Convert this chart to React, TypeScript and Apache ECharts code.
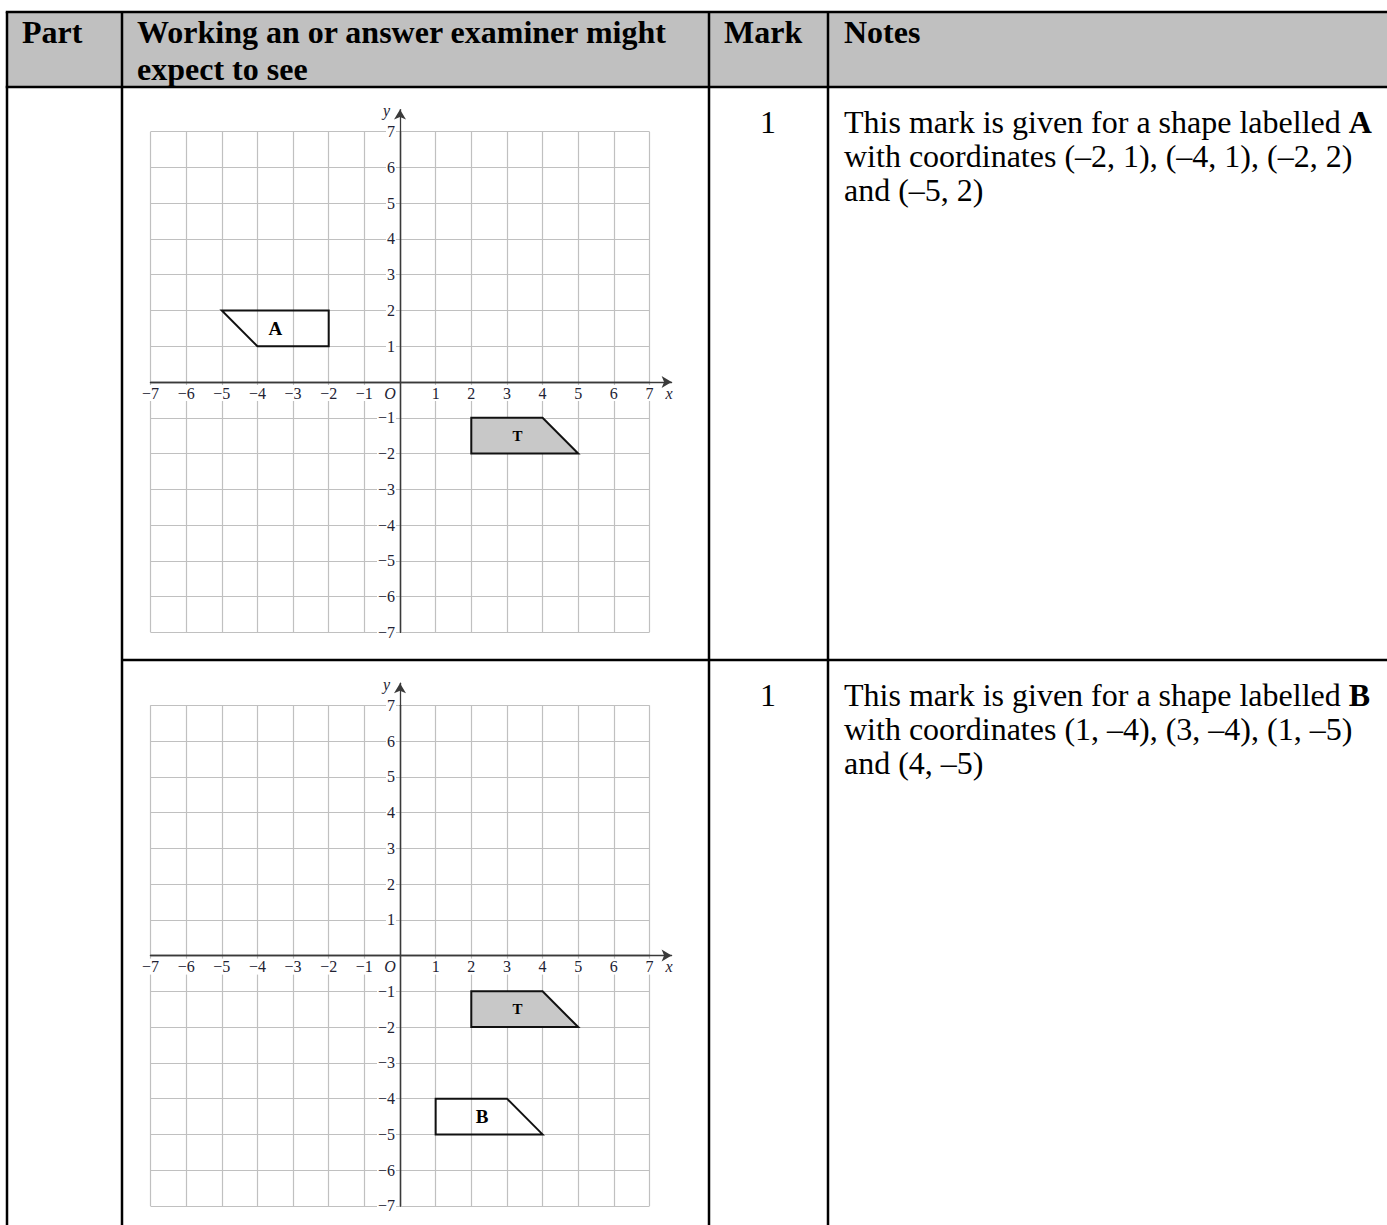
import React, { useEffect, useRef } from 'react';
import * as echarts from 'echarts';

// ---------- data ----------
const AXIS_MIN = -7;
const AXIS_MAX = 7;
const AXIS_STEP = 1;
const ARROW_EXTENT = 0.62;

const SHAPE_T = [[2, -1], [4, -1], [5, -2], [2, -2]];
const LABEL_T = [3.3, -1.5];
const SHAPE_A = [[-5, 2], [-2, 2], [-2, 1], [-4, 1]];
const LABEL_A = [-3.5, 1.5];
const SHAPE_B = [[1, -4], [3, -4], [4, -5], [1, -5]];
const LABEL_B = [2.3, -4.5];

const HEADER_PART = 'Part';
const HEADER_WORKING = ['Working an or answer examiner might', 'expect to see'];
const HEADER_MARK = 'Mark';
const HEADER_NOTES = 'Notes';
const MARKS = ['1', '1'];
const NOTES_ROW1 = [
  'This mark is given for a shape labelled {b|A}',
  'with coordinates (–2, 1), (–4, 1), (–2, 2)',
  'and (–5, 2)',
];
const NOTES_ROW2 = [
  'This mark is given for a shape labelled {b|B}',
  'with coordinates (1, –4), (3, –4), (1, –5)',
  'and (4, –5)',
];

// ---------- layout / style ----------
const W = 1387;
const H = 1225;
const SERIF = '"Liberation Serif", "Times New Roman", serif';
const GRID_COLOR = '#c0c0c0';
const AXIS_COLOR = '#3a3a3a';
const LABEL_COLOR = '#222233';
const PLOT_LEFT = 150.5;
const PLOT_W = 499;
const PLOT_H = 500.6;
const PLOT_TOPS = [131.7, 705.3];

const TABLE_LEFT = 7;
const TABLE_TOP = 12;
const HEADER_BOTTOM = 87;
const COL1 = 122;
const COL2 = 709;
const COL3 = 828;
const ROW_DIV = 660;
const BORDER = 2.5;
const HEADER_FONT = 32;
const BODY_FONT = 32;
const BODY_LH = 34;

const fmt = (v: number) => (v < 0 ? '−' + Math.abs(v) : String(v));

const tickLabel = {
  fontFamily: SERIF,
  fontSize: 16,
  color: LABEL_COLOR,
};

function buildChart(idx: number, top: number, shapes: { pts: number[][]; label: string; at: number[]; fill: string; size: number }[]) {
  const unitX = PLOT_W / (AXIS_MAX - AXIS_MIN);
  const unitY = PLOT_H / (AXIS_MAX - AXIS_MIN);
  // distance from the grid's bottom / left edge to the zero lines
  const zeroFromBottom = (0 - AXIS_MIN) * unitY;
  const zeroFromLeft = (0 - AXIS_MIN) * unitX;
  const g0 = idx * 2;
  const g1 = idx * 2 + 1;
  const grids = [
    { left: PLOT_LEFT, top, width: PLOT_W, height: PLOT_H },
    {
      left: PLOT_LEFT,
      top: top - ARROW_EXTENT * unitY,
      width: PLOT_W + ARROW_EXTENT * unitX,
      height: PLOT_H + ARROW_EXTENT * unitY,
    },
  ];
  const mainAxisLine = { show: true, onZero: false, lineStyle: { color: AXIS_COLOR, width: 1.3 } };
  const split = { show: true, lineStyle: { color: GRID_COLOR, width: 1.2 } };
  const xAxes = [
    {
      type: 'value',
      gridIndex: g0,
      position: 'bottom',
      offset: -zeroFromBottom,
      min: AXIS_MIN,
      max: AXIS_MAX,
      interval: AXIS_STEP,
      axisLine: mainAxisLine,
      axisTick: { show: false },
      splitLine: split,
      axisLabel: {
        ...tickLabel,
        margin: 3,
        showMinLabel: true,
        showMaxLabel: true,
        formatter: (v: number) => (v === 0 ? '{o|O}' : `{n|${fmt(v)}}`),
        rich: {
          n: { ...tickLabel, backgroundColor: '#fff', padding: [0, 1] },
          o: { ...tickLabel, fontStyle: 'italic', padding: [0, 20, 0, 0] },
        },
      },
      name: 'x',
      nameLocation: 'end',
      nameGap: 16,
      nameTextStyle: {
        fontFamily: SERIF,
        fontSize: 16,
        fontStyle: 'italic',
        color: LABEL_COLOR,
        verticalAlign: 'top',
        padding: [3, 0, 0, 0],
      },
    },
    {
      type: 'value',
      gridIndex: g1,
      min: AXIS_MIN,
      max: AXIS_MAX + ARROW_EXTENT,
      z: 5,
      axisLine: {
        show: true,
        onZero: true,
        symbol: ['none', 'arrow'],
        symbolSize: [9, 10],
        lineStyle: { color: AXIS_COLOR, width: 1.3 },
      },
      axisTick: { show: false },
      axisLabel: { show: false },
      splitLine: { show: false },
    },
  ];
  const yAxes = [
    {
      type: 'value',
      gridIndex: g0,
      position: 'left',
      offset: -zeroFromLeft,
      min: AXIS_MIN,
      max: AXIS_MAX,
      interval: AXIS_STEP,
      axisLine: mainAxisLine,
      axisTick: { show: false },
      splitLine: split,
      axisLabel: {
        ...tickLabel,
        margin: 4,
        showMinLabel: true,
        showMaxLabel: true,
        formatter: (v: number) => (v === 0 ? '' : `{n|${fmt(v)}}`),
        rich: {
          n: { ...tickLabel, backgroundColor: '#fff', padding: [0, 1] },
        },
      },
      name: 'y',
      nameLocation: 'end',
      nameGap: 21,
      nameTextStyle: {
        fontFamily: SERIF,
        fontSize: 16,
        fontStyle: 'italic',
        color: LABEL_COLOR,
        align: 'right',
        verticalAlign: 'middle',
        padding: [0, 10, 0, 0],
      },
    },
    {
      type: 'value',
      gridIndex: g1,
      min: AXIS_MIN,
      max: AXIS_MAX + ARROW_EXTENT,
      z: 5,
      axisLine: {
        show: true,
        onZero: true,
        symbol: ['none', 'arrow'],
        symbolSize: [9, 10],
        lineStyle: { color: AXIS_COLOR, width: 1.3 },
      },
      axisTick: { show: false },
      axisLabel: { show: false },
      splitLine: { show: false },
    },
  ];
  const series = shapes.map((s) => ({
    type: 'custom',
    coordinateSystem: 'cartesian2d',
    xAxisIndex: g0,
    yAxisIndex: g0,
    clip: false,
    z: 3,
    data: [s.at],
    renderItem: (_p: any, api: any) => {
      const points = s.pts.map((pt) => api.coord(pt));
      const lp = api.coord([api.value(0), api.value(1)]);
      return {
        type: 'group',
        children: [
          {
            type: 'polygon',
            shape: { points },
            style: { fill: s.fill, stroke: '#111', lineWidth: 2, lineJoin: 'miter' },
          },
          {
            type: 'text',
            x: lp[0],
            y: lp[1],
            style: {
              text: s.label,
              font: `bold ${s.size}px ${SERIF}`,
              fill: '#000',
              align: 'center',
              verticalAlign: 'middle',
            },
          },
        ],
      };
    },
  }));
  return { grids, xAxes, yAxes, series };
}

function tableGraphics() {
  const els: any[] = [];
  const line = (x1: number, y1: number, x2: number, y2: number) =>
    els.push({
      type: 'line',
      shape: { x1, y1, x2, y2 },
      style: { stroke: '#000', lineWidth: BORDER },
      z: 10,
    });
  els.push({
    type: 'rect',
    shape: { x: TABLE_LEFT, y: TABLE_TOP, width: W - TABLE_LEFT, height: HEADER_BOTTOM - TABLE_TOP },
    style: { fill: '#c0c0c0' },
    z: 1,
  });
  line(TABLE_LEFT - BORDER / 2, TABLE_TOP, W, TABLE_TOP);
  line(TABLE_LEFT - BORDER / 2, HEADER_BOTTOM, W, HEADER_BOTTOM);
  line(TABLE_LEFT, TABLE_TOP, TABLE_LEFT, H);
  line(COL1, TABLE_TOP, COL1, H);
  line(COL2, TABLE_TOP, COL2, H);
  line(COL3, TABLE_TOP, COL3, H);
  line(COL1, ROW_DIV, W, ROW_DIV);

  const hdr = (text: string, x: number, y: number) =>
    els.push({
      type: 'text',
      x,
      y,
      z: 11,
      style: {
        text,
        font: `bold ${HEADER_FONT}px ${SERIF}`,
        fill: '#000',
        align: 'left',
        verticalAlign: 'middle',
      },
    });
  const h1 = 31.5;
  const h2 = 68.5;
  hdr(HEADER_PART, 22, h1);
  hdr(HEADER_WORKING[0], 137, h1);
  hdr(HEADER_WORKING[1], 137, h2);
  hdr(HEADER_MARK, 724, h1);
  hdr(HEADER_NOTES, 844, h1);

  const rowTops = [HEADER_BOTTOM, ROW_DIV];
  const notes = [NOTES_ROW1, NOTES_ROW2];
  rowTops.forEach((rt, r) => {
    const first = rt + 35;
    els.push({
      type: 'text',
      x: 768,
      y: first,
      z: 11,
      style: {
        text: MARKS[r],
        font: `${BODY_FONT}px ${SERIF}`,
        fill: '#000',
        align: 'center',
        verticalAlign: 'middle',
      },
    });
    notes[r].forEach((t, i) => {
      els.push({
        type: 'text',
        x: 844,
        y: first + i * BODY_LH,
        z: 11,
        style: {
          text: t,
          fontFamily: SERIF,
          fontSize: BODY_FONT,
          fill: '#000',
          align: 'left',
          verticalAlign: 'middle',
          rich: {
            b: { fontFamily: SERIF, fontSize: BODY_FONT, fontWeight: 'bold', fill: '#000' },
          },
        },
      });
    });
  });
  return els;
}

export default function App() {
  const ref = useRef<HTMLDivElement>(null);
  useEffect(() => {
    if (!ref.current) return;
    const chart = echarts.init(ref.current, undefined, { renderer: 'svg', width: W, height: H });
    const c1 = buildChart(0, PLOT_TOPS[0], [
      { pts: SHAPE_T, label: 'T', at: LABEL_T, fill: '#c8c8c8', size: 15 },
      { pts: SHAPE_A, label: 'A', at: LABEL_A, fill: 'none', size: 19 },
    ]);
    const c2 = buildChart(1, PLOT_TOPS[1], [
      { pts: SHAPE_T, label: 'T', at: LABEL_T, fill: '#c8c8c8', size: 15 },
      { pts: SHAPE_B, label: 'B', at: LABEL_B, fill: 'none', size: 19 },
    ]);
    chart.setOption({
      animation: false,
      backgroundColor: '#fff',
      grid: [...c1.grids, ...c2.grids],
      xAxis: [...c1.xAxes, ...c2.xAxes],
      yAxis: [...c1.yAxes, ...c2.yAxes],
      series: [...c1.series, ...c2.series],
      graphic: tableGraphics(),
    } as any);
    return () => chart.dispose();
  }, []);
  return (
    <div
      ref={ref}
      style={{ position: 'fixed', left: 0, top: 0, width: W, height: H, background: '#fff' }}
    />
  );
}
